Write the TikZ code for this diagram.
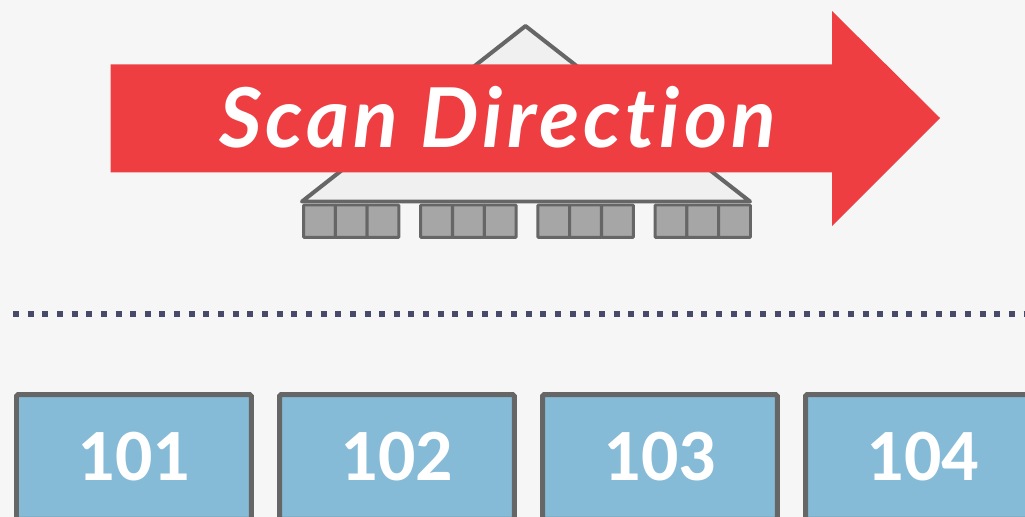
\documentclass[tikz,border=0pt]{standalone}
\usepackage{fontspec}
\setmainfont{Carlito}
\newfontfamily\scanfont{Lato}[LetterSpace=5, Ligatures=NoCommon]
\usepackage{tikz}
\usetikzlibrary{positioning}
\definecolor{bgcol}{HTML}{F6F6F6}
\definecolor{scanred}{HTML}{EF3E42}
\definecolor{pageblue}{HTML}{86BBD8}
\definecolor{edgegray}{HTML}{666666}
\definecolor{leafgray}{HTML}{A6A6A6}
\definecolor{treefill}{HTML}{F0F0F0}
\definecolor{dotcol}{HTML}{474A69}
\tikzset{page/.style={draw=edgegray, line width=0.1cm, fill=pageblue, rounded corners=1pt,
minimum width=4.7cm, minimum height=2.5cm, anchor=north west, inner sep=0pt,
text=white, font=\bfseries\fontsize{42}{42}\selectfont},
leaf/.style={draw=edgegray, line width=0.06cm, fill=leafgray, rounded corners=0.5pt,
minimum width=0.636cm, minimum height=0.65cm, anchor=north west, inner sep=0pt},
tree/.style={draw=edgegray, line width=0.08cm, fill=treefill, line join=round},
scanarrow/.style={fill=scanred},
divider/.style={draw=dotcol, line width=0.12cm, dash pattern=on 0.12cm off 0.173cm}}

\begin{document}
\begin{tikzpicture}[x=0.02cm, y=-0.02cm]
    % Background and picture size
    \useasboundingbox (0,0) rectangle (1025,517);
    \fill[bgcol] (0,0) rectangle (1025,517);
    \clip (0,0) rectangle (1025,517);

    % Index tree with its leaf pages
    \coordinate (apex) at (525.5,26);
    \coordinate (baseL) at (302,201.5);
    \coordinate (baseR) at (750,201.5);
    \draw[tree] (apex) -- (baseL) -- (baseR) -- cycle;
    \foreach \g in {0,1,2,3}{
        \foreach \s in {0,1,2}{
            \node[leaf] (leaf\g\s) at ({302+117.2*\g+31.8*\s},203.5) {};
        }
    }

    % Scan direction arrow
    \fill[scanarrow] (110.5,64.5) -- (832,64.5) -- (832,11) -- (940,118)
        -- (832,226) -- (832,172.5) -- (110.5,172.5) -- cycle;
    \node[anchor=base, text=white, inner sep=0pt,
        font=\scanfont\bfseries\itshape\fontsize{47}{47}\selectfont]
        (scanlabel) at (497.5,148) {Scan Direction};

    % Dotted divider
    \coordinate (divL) at (13,314);
    \coordinate (divR) at (1030,314);
    \draw[divider] (divL) -- (divR);

    % Table pages
    \node[page] (page101) at (14,392) {101};
    \node[page] (page102) at (277,392) {102};
    \node[page] (page103) at (540,392) {103};
    \node[page] (page104) at (803,392) {104};
\end{tikzpicture}
\end{document}
